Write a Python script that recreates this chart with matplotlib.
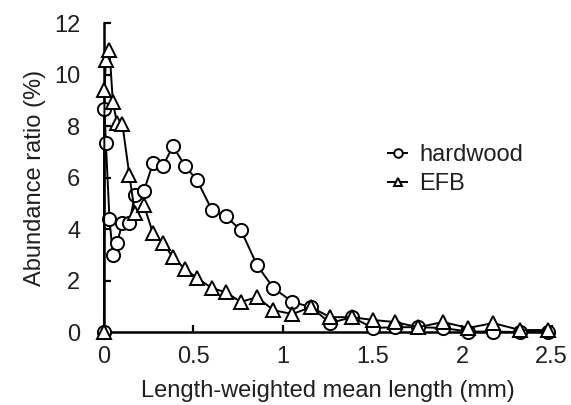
import matplotlib
matplotlib.use("Agg")
import matplotlib.pyplot as plt

# shared x grid (mm) and abundance ratios (%)
length_mm = [0, 0.003, 0.011, 0.031, 0.050, 0.073, 0.103, 0.142, 0.173, 0.223,
             0.274, 0.330, 0.385, 0.453, 0.520, 0.603, 0.679, 0.765, 0.855, 0.947,
             1.053, 1.156, 1.263, 1.385, 1.503, 1.626, 1.754, 1.894, 2.034, 2.173,
             2.324, 2.480]
hardwood = [0, 8.66, 7.34, 4.39, 2.99, 3.45, 4.23, 4.23, 5.32, 5.48,
            6.56, 6.45, 7.22, 6.45, 5.90, 4.74, 4.50, 3.96, 2.60, 1.71,
            1.17, 0.97, 0.35, 0.58, 0.16, 0.19, 0.19, 0.16, 0.02, 0.02,
            0.0, 0.0]
efb = [0, 9.40, 10.56, 10.95, 8.93, 8.12, 8.08, 6.10, 4.62, 4.93,
       3.84, 3.45, 2.91, 2.45, 2.10, 1.71, 1.55, 1.17, 1.36, 0.85,
       0.70, 0.97, 0.58, 0.58, 0.47, 0.39, 0.19, 0.39, 0.16, 0.35,
       0.08, 0.08]

xticks = [0, 0.5, 1, 1.5, 2, 2.5]
xtick_labels = ["0", "0.5", "1", "1.5", "2", "2.5"]
yticks = [0, 2, 4, 6, 8, 10, 12]

txt = "#231f20"
plt.rcParams["font.family"] = ["Liberation Sans", "DejaVu Sans"]
plt.rcParams["font.size"] = 17

fig = plt.figure(figsize=(5.71, 4.05), dpi=100)
ax = fig.add_axes([0.182, 0.18, 0.784, 0.763])

style = dict(color="black", lw=1.4, markersize=9.5, markeredgewidth=1.4,
             markerfacecolor="white", markeredgecolor="black", clip_on=False)
ax.plot(length_mm, hardwood, marker="o", label="hardwood", zorder=3, **style)
ax.plot(length_mm, efb, marker="^", label="EFB", zorder=4, **style)

ax.set_xlim(0, 2.5)
ax.set_ylim(0, 12)
ax.set_xticks(xticks)
ax.set_xticklabels(xtick_labels)
ax.set_yticks(yticks)

for s in ["top", "right"]:
    ax.spines[s].set_visible(False)
for s in ["left", "bottom"]:
    ax.spines[s].set_linewidth(1.8)

ax.tick_params(axis="both", direction="in", length=5, width=1.6, colors="black",
               labelcolor=txt, labelsize=17)
ax.tick_params(axis="y", pad=17)
ax.tick_params(axis="x", pad=10)

ax.set_xlabel("Length-weighted mean length (mm)", color=txt, fontsize=17, labelpad=9)
ax.set_ylabel("Abundance ratio (%)", color=txt, fontsize=17, labelpad=6)

leg = ax.legend(loc="upper left", bbox_to_anchor=(0.614, 0.64), frameon=False,
                handlelength=0.8, handletextpad=0.5, markerscale=0.65,
                labelspacing=0.3, fontsize=17, borderaxespad=0)
for t in leg.get_texts():
    t.set_color(txt)

fig.savefig("out.png", dpi=100)
